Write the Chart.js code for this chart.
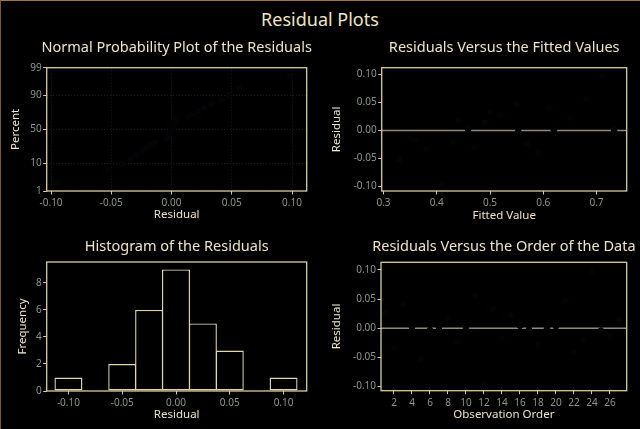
<!DOCTYPE html>
<html>
<head>
<meta charset="utf-8">
<script src="https://cdn.jsdelivr.net/npm/chart.js@4.4.1/dist/chart.umd.min.js"></script>
<style>
html,body{margin:0;padding:0;background:#000;}
#wrap{position:relative;width:640px;height:429px;overflow:hidden;background:#000;}
#edge{position:absolute;left:0;top:0;width:640px;height:429px;border-left:1px solid #7a5c34;border-top:1px solid #9a7646;box-sizing:border-box;}
#main{position:absolute;left:0;top:7px;width:640px;text-align:center;font:18px "Noto Sans";color:#efe4c4;line-height:24px;}
canvas{position:absolute;}
</style>
</head>
<body>
<div id="wrap">
  <div id="edge"></div>
  <div id="main">Residual Plots</div>
  <canvas id="npp" width="320" height="200" style="left:0;top:30px"></canvas>
  <canvas id="vfit" width="320" height="200" style="left:320px;top:30px"></canvas>
  <canvas id="hist" width="320" height="199" style="left:0;top:230px"></canvas>
  <canvas id="vorder" width="320" height="199" style="left:320px;top:230px"></canvas>
</div>
<script>
'use strict'

// residuals in observation order
const obsOrder = [1,2,3,4,5,6,7,8,9,10,11,12,13,14,15,16,17,18,19,20,21,22,23,24,25,26,27]
const residuals = [0.027,-0.034,0.041,0.002,-0.052,-0.003,0.001,0.018,-0.024,-0.001,0.056,-0.095,0.033,-0.017,0.022,0.004,-0.002,-0.029,0.000,0.003,0.047,-0.041,-0.021,0.098,-0.004,-0.014,0.014]
const fitted = [0.52,0.38,0.61,0.459,0.33,0.553,0.62,0.44,0.57,0.733,0.68,0.41,0.50,0.36,0.65,0.459,0.553,0.47,0.62,0.733,0.55,0.59,0.43,0.71,0.62,0.35,0.49]
// normal scores for the sorted residuals
const normalScores = [-1.997,-1.558,-1.302,-1.112,-0.955,-0.819,-0.697,-0.583,-0.477,-0.377,-0.279,-0.185,-0.092,0,0.092,0.185,0.279,0.377,0.477,0.583,0.697,0.819,0.955,1.112,1.302,1.558,1.997]

const histBins = [-0.1,-0.075,-0.05,-0.025,0,0.025,0.05,0.075,0.1]
const histCounts = [1,0,2,6,9,5,3,0,1]

const pctLabels = ['1','10','50','90','99']
const pctZ = [-2.326,-1.2816,0,1.2816,2.326]
const residTicks = [-0.1,-0.05,0,0.05,0.1]
const fittedTicks = [0.3,0.4,0.5,0.6,0.7]
const orderTicks = [2,4,6,8,10,12,14,16,18,20,22,24,26]
const freqTicks = [0,2,4,6,8]

const beige = '#efe4c4'
const frameCol = '#d9cba0'
const tickCol = '#8e958a'
const ptCol = '#020505'

Chart.defaults.font.family = '"Noto Sans"'
Chart.defaults.animation = false

const panelDeco = {
  id: 'panelDeco',
  afterDatasetsDraw(chart, args, opts) {
    const a = chart.chartArea
    const ctx = chart.ctx
    ctx.save()
    ctx.strokeStyle = frameCol
    ctx.lineWidth = 1.3
    ctx.strokeRect(a.left, a.top, a.right - a.left, a.bottom - a.top)
    ctx.fillStyle = beige
    ctx.font = '14.5px "Noto Sans"'
    ctx.textAlign = 'center'
    ctx.textBaseline = 'middle'
    ctx.fillText(opts.text, (a.left + a.right) / 2, opts.y)
    ctx.restore()
  }
}

function fixed(list) {
  return function(scale) { scale.ticks = list.map(v => ({value: v})) }
}

function axis(o) {
  const horiz = o.pos === 'bottom'
  return {
    type: 'linear',
    position: o.pos,
    min: o.min, max: o.max,
    offset: false,
    afterBuildTicks: fixed(o.ticks),
    afterFit: function(s) { if (horiz) s.height = o.size; else s.width = o.size },
    ticks: {
      color: tickCol, font: {size: 10}, padding: horiz ? 2.5 : 1.5,
      maxRotation: 0, autoSkip: false,
      callback: o.fmt
    },
    grid: {
      display: true,
      offset: false,
      drawOnChartArea: !!o.grid,
      color: o.grid ? '#1b1b1b' : frameCol,
      tickColor: frameCol,
      tickLength: 3.5,
      tickBorderDash: [],
      lineWidth: 1
    },
    border: {display: false, dash: o.grid ? [1, 2] : []},
    title: {
      display: true, text: o.title, color: beige,
      font: {size: 11.5},
      padding: horiz ? {top: 0, bottom: o.tpad} : {top: o.tpad, bottom: 0}
    }
  }
}

const f2 = v => v.toFixed(2)

// Normal probability plot
const sorted = residuals.slice().sort((a, b) => a - b)
new Chart(document.getElementById('npp'), {
  type: 'scatter',
  data: {
    datasets: [{
      data: sorted.map((r, i) => ({x: r, y: normalScores[i]})),
      pointRadius: 2.8, pointBackgroundColor: ptCol, pointBorderColor: ptCol
    }]
  },
  options: {
    responsive: false,
    layout: {padding: {top: 37.7, right: 13.3, left: 0, bottom: 0}},
    plugins: {legend: {display: false}, tooltip: {enabled: false}, panelDeco: {text: 'Normal Probability Plot of the Residuals', y: 18}},
    scales: {
      x: axis({pos: 'bottom', min: -0.1036, max: 0.1122, ticks: residTicks, fmt: f2, size: 39, title: 'Residual', tpad: 8.1, grid: true}),
      y: axis({pos: 'left', min: -2.326, max: 2.326, ticks: pctZ, fmt: (v, i) => pctLabels[i], size: 46.7, title: 'Percent', tpad: 9.1, grid: true})
    }
  },
  plugins: [panelDeco]
})

// Residuals versus fitted values
new Chart(document.getElementById('vfit'), {
  type: 'scatter',
  data: {
    datasets: [{
      data: fitted.map((f, i) => ({x: f, y: residuals[i]})),
      pointRadius: 2.8, pointBackgroundColor: ptCol, pointBorderColor: ptCol, order: 0
    }, {
      type: 'line',
      data: [{x: 0.2966, y: 0}, {x: 0.7567, y: 0}],
      borderColor: '#908a7e', borderWidth: 1.5, pointRadius: 0, order: 1
    }]
  },
  options: {
    responsive: false,
    layout: {padding: {top: 37.7, right: 13.3, left: 0, bottom: 0}},
    plugins: {legend: {display: false}, tooltip: {enabled: false}, panelDeco: {text: 'Residuals Versus the Fitted Values', y: 18}},
    scales: {
      x: axis({pos: 'bottom', min: 0.2966, max: 0.7567, ticks: fittedTicks, fmt: v => v.toFixed(1), size: 39, title: 'Fitted Value', tpad: 7.4}),
      y: axis({pos: 'left', min: -0.108, max: 0.112, ticks: residTicks, fmt: f2, size: 61.7, title: 'Residual', tpad: 9.8})
    }
  },
  plugins: [panelDeco]
})

// Histogram
new Chart(document.getElementById('hist'), {
  type: 'bar',
  data: {
    datasets: [{
      data: histBins.map((b, i) => ({x: b, y: histCounts[i]})),
      backgroundColor: '#000', borderColor: '#e2d6ac', borderWidth: 1.4,
      borderSkipped: false, barPercentage: 1.04, categoryPercentage: 1, grouped: false
    }]
  },
  options: {
    responsive: false,
    layout: {padding: {top: 32, right: 13.3, left: 0, bottom: 0}},
    plugins: {legend: {display: false}, tooltip: {enabled: false}, panelDeco: {text: 'Histogram of the Residuals', y: 17.3}},
    scales: {
      x: axis({pos: 'bottom', min: -0.1202, max: 0.1215, ticks: residTicks, fmt: f2, size: 38, title: 'Residual', tpad: 7.1}),
      y: axis({pos: 'left', min: 0, max: 9.55, ticks: freqTicks, fmt: v => String(v), size: 46.7, title: 'Frequency', tpad: 16.1})
    }
  },
  plugins: [panelDeco]
})

// Residuals versus order
new Chart(document.getElementById('vorder'), {
  type: 'scatter',
  data: {
    datasets: [{
      data: obsOrder.map((n, i) => ({x: n, y: residuals[i]})),
      pointRadius: 2.8, pointBackgroundColor: ptCol, pointBorderColor: ptCol, order: 0
    }, {
      type: 'line',
      data: [{x: 0.556, y: 0}, {x: 27.86, y: 0}],
      borderColor: '#908a7e', borderWidth: 1.5, pointRadius: 0, order: 1
    }]
  },
  options: {
    responsive: false,
    layout: {padding: {top: 32.3, right: 13.3, left: 0, bottom: 0}},
    plugins: {legend: {display: false}, tooltip: {enabled: false}, panelDeco: {text: 'Residuals Versus the Order of the Data', y: 17.3}},
    scales: {
      x: axis({pos: 'bottom', min: 0.556, max: 27.86, ticks: orderTicks, fmt: v => String(v), size: 38.3, title: 'Observation Order', tpad: 7.1}),
      y: axis({pos: 'left', min: -0.107, max: 0.113, ticks: residTicks, fmt: f2, size: 61, title: 'Residual', tpad: 9.8})
    }
  },
  plugins: [panelDeco]
})
</script>
</body>
</html>
